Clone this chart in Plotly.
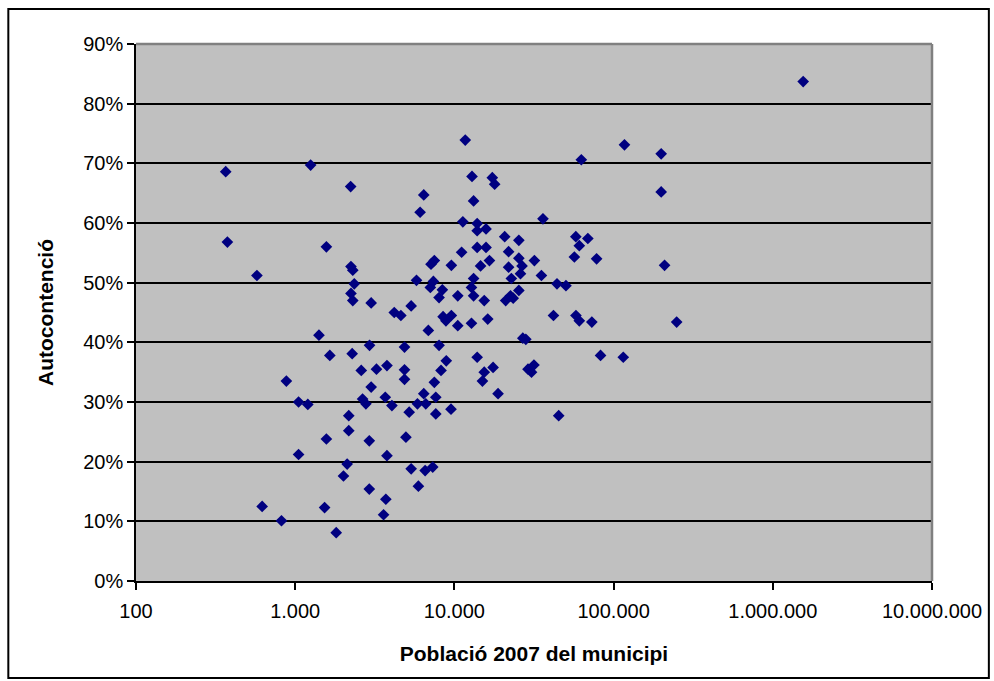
import plotly.graph_objects as go

# Població 2007 del municipi (habitants)
poblacio = [
    366, 1250, 375, 1570, 575, 1410, 1650, 880, 1050, 1200,
    1570, 1050, 620, 820, 1530, 1810, 2230, 6420, 6090, 12900,
    17300, 17900, 13200, 11300, 13900, 13900, 15800, 36000, 20700, 25400,
    13900, 15800, 11100, 21900, 25400, 31800, 7480, 7130, 2240, 2300,
    9570, 14600, 16600, 21900, 26600, 26000, 22800, 35200, 2350, 5780,
    7380, 7060, 8400, 8010, 13200, 12800, 13200, 10500, 15400, 21000,
    22500, 25400, 2240, 2300, 3000, 4190, 4610, 5350, 8490, 9570,
    10500, 12800, 16200, 6860, 26900, 2280, 2930, 4860, 8010, 13900,
    17500, 29000, 31600, 30500, 2600, 3240, 3770, 4860, 4860, 8240,
    8890, 7480, 15400, 15000, 3000, 2650, 2780, 3680, 4050, 6420,
    5860, 6610, 7640, 5200, 7640, 9520, 18800, 2170, 2170, 2920,
    4960, 3770, 2120, 2010, 5350, 6550, 7310, 5940, 2920, 3710,
    3590, 62700, 199000, 199000, 57900, 68900, 60900, 56700, 78200, 209000,
    44100, 50200, 41900, 58000, 60900, 73000, 249000, 82800, 115000, 45200,
    117000, 11700, 1552000, 23400, 8850, 28100,
]

# Autocontenció (%)
autocontencio = [
    68.6, 69.7, 56.8, 56.0, 51.2, 41.2, 37.8, 33.5, 30.0, 29.6,
    23.8, 21.2, 12.5, 10.1, 12.3, 8.1, 66.1, 64.7, 61.8, 67.8,
    67.6, 66.5, 63.7, 60.2, 59.9, 58.7, 59.0, 60.7, 57.7, 57.1,
    55.9, 55.9, 55.1, 55.2, 54.1, 53.7, 53.7, 53.1, 52.7, 52.1,
    52.9, 52.8, 53.7, 52.6, 52.8, 51.5, 50.7, 51.2, 49.8, 50.4,
    50.2, 49.2, 48.8, 47.5, 50.7, 49.2, 47.8, 47.8, 47.0, 47.0,
    47.8, 48.7, 48.2, 47.0, 46.6, 45.0, 44.5, 46.1, 44.3, 44.5,
    42.8, 43.2, 43.9, 42.0, 40.7, 38.1, 39.5, 39.2, 39.5, 37.5,
    35.8, 35.5, 36.2, 35.0, 35.3, 35.5, 36.1, 35.4, 33.8, 35.3,
    36.9, 33.3, 35.0, 33.5, 32.5, 30.5, 29.7, 30.8, 29.4, 31.4,
    29.7, 29.7, 30.8, 28.3, 28.0, 28.8, 31.4, 27.7, 25.2, 23.5,
    24.1, 21.0, 19.6, 17.6, 18.8, 18.5, 19.1, 15.9, 15.4, 13.7,
    11.1, 70.6, 71.6, 65.2, 57.7, 57.4, 56.2, 54.3, 54.0, 52.9,
    49.8, 49.5, 44.5, 44.5, 43.6, 43.4, 43.4, 37.8, 37.5, 27.7,
    73.1, 73.9, 83.7, 47.4, 43.6, 40.5,
]

x_tick_values = [100, 1000, 10000, 100000, 1000000, 10000000]
x_tick_labels = ["100", "1.000", "10.000", "100.000", "1.000.000", "10.000.000"]
y_tick_values = [0, 10, 20, 30, 40, 50, 60, 70, 80, 90]
y_tick_labels = [f"{v}%" for v in y_tick_values]

FONT = "Liberation Sans, Arial, sans-serif"

fig = go.Figure(
    go.Scatter(
        x=poblacio,
        y=autocontencio,
        mode="markers",
        marker=dict(symbol="diamond", size=9, color="#000080",
                    line=dict(width=0)),
        hoverinfo="x+y",
    )
)

fig.update_layout(
    width=994,
    height=681,
    margin=dict(l=136, r=60, t=44, b=100),
    paper_bgcolor="white",
    plot_bgcolor="#C0C0C0",
    showlegend=False,
    font=dict(family=FONT, color="black", size=20),
    xaxis=dict(
        type="log",
        range=[2, 7],
        tickvals=x_tick_values,
        ticktext=x_tick_labels,
        showgrid=False,
        zeroline=False,
        showline=True,
        linecolor="black",
        linewidth=1.5,
        ticks="outside",
        ticklen=7,
        tickwidth=1.5,
        tickcolor="black",
        tickfont=dict(size=20),
        ticklabelstandoff=4,
        title=dict(text="<b>Població 2007 del municipi</b>",
                   font=dict(size=21), standoff=26),
    ),
    yaxis=dict(
        range=[0, 90],
        tickvals=y_tick_values,
        ticktext=y_tick_labels,
        showgrid=True,
        gridcolor="black",
        gridwidth=1.5,
        zeroline=False,
        showline=True,
        linecolor="black",
        linewidth=1.5,
        ticks="outside",
        ticklen=7,
        tickwidth=1.5,
        tickcolor="black",
        tickfont=dict(size=20),
        title=dict(text="<b>Autocontenció</b>", font=dict(size=21),
                   standoff=24),
    ),
    shapes=[
        # grey frame on the top and right of the plotting area
        dict(type="line", xref="paper", yref="paper", x0=0, x1=1, y0=1, y1=1,
             line=dict(color="#808080", width=2.5), layer="above"),
        dict(type="line", xref="paper", yref="paper", x0=1, x1=1, y0=0, y1=1,
             line=dict(color="#808080", width=2.5), layer="above"),
        # outer chart border
        dict(type="rect", xref="paper", yref="paper",
             x0=-128 / 798, x1=855 / 798, y0=-97 / 537, y1=572 / 537,
             line=dict(color="black", width=2), layer="below"),
    ],
)

fig.write_html("out.html")
